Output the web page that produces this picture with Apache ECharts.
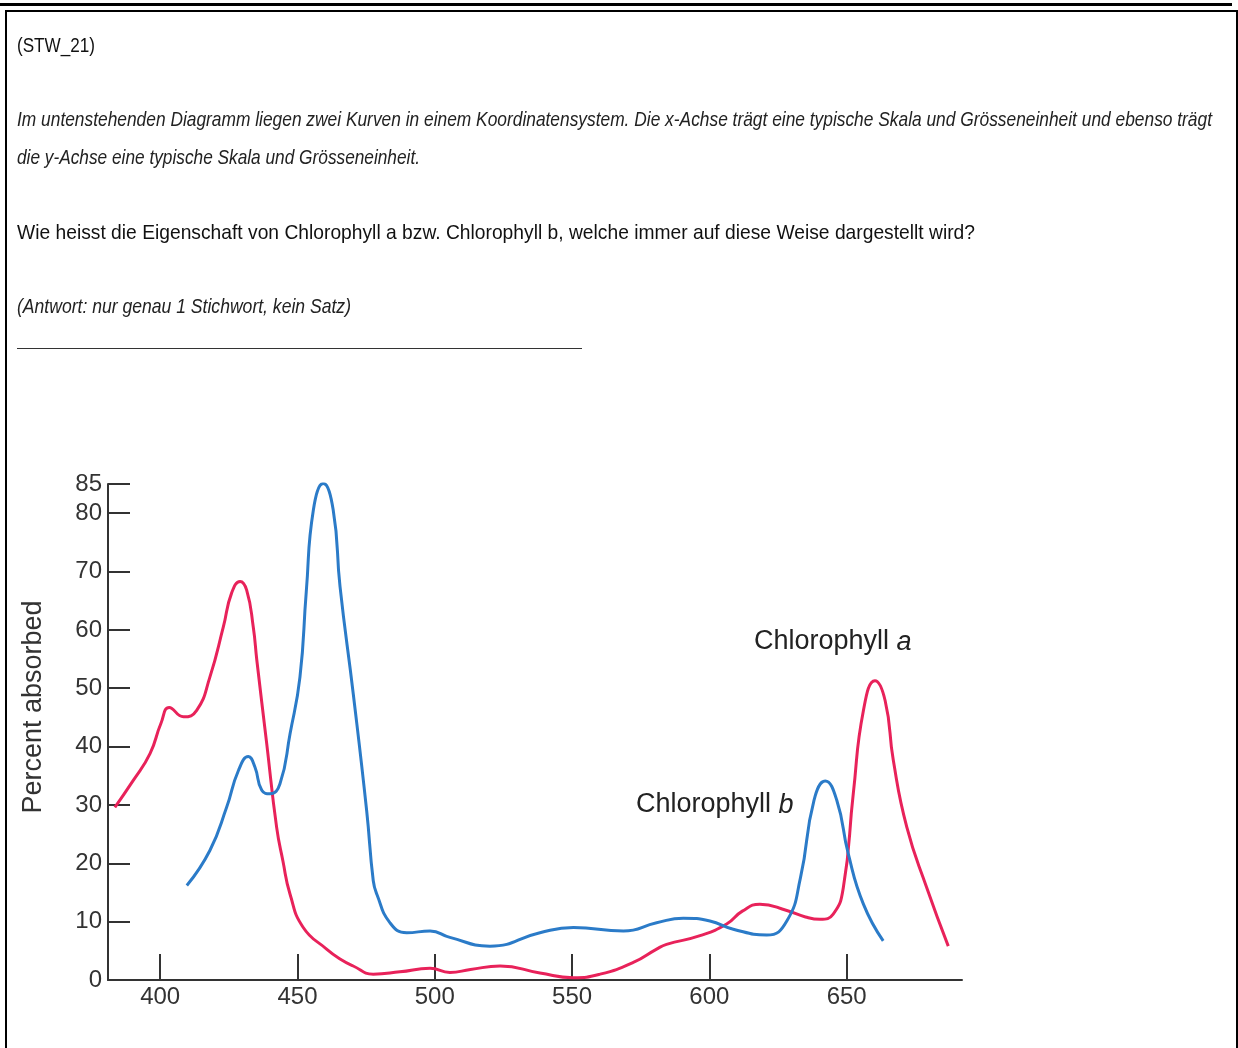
<!DOCTYPE html>
<html>
<head>
<meta charset="utf-8">
<script src="https://cdn.jsdelivr.net/npm/echarts@6/dist/echarts.min.js"></script>
<style>
  html, body { margin:0; padding:0; background:#fff; width:1238px; height:1048px; overflow:hidden; }
  #chart { position:absolute; left:0; top:0; width:1238px; height:1048px; }
  .t { position:absolute; left:17px; font-family:"Liberation Sans",Arial,sans-serif; font-size:21px; color:#111; white-space:nowrap; line-height:1; transform-origin:0 50%; }
  .i { font-style:italic; color:#222; }
  #topline { position:absolute; left:0; top:3px; width:1232px; height:3px; background:#000; }
  #box { position:absolute; left:5px; top:10px; width:1229px; height:1100px; border:2px solid #000; }
  #answer { position:absolute; left:17px; top:348px; width:565px; height:1px; background:#333; }
</style>
</head>
<body>
<div id="chart"></div>
<div id="topline"></div>
<div id="box"></div>
<div class="t" data-w="78" style="top:34px">(STW_21)</div>
<div class="t i" data-w="1195" style="top:108px">Im untenstehenden Diagramm liegen zwei Kurven in einem Koordinatensystem. Die x-Achse trägt eine typische Skala und Grösseneinheit und ebenso trägt</div>
<div class="t i" data-w="403" style="top:146px">die y-Achse eine typische Skala und Grösseneinheit.</div>
<div class="t" data-w="958" style="top:221px">Wie heisst die Eigenschaft von Chlorophyll a bzw. Chlorophyll b, welche immer auf diese Weise dargestellt wird?</div>
<div class="t i" data-w="334" style="top:295px">(Antwort: nur genau 1 Stichwort, kein Satz)</div>
<div id="answer"></div>
<script>
document.querySelectorAll('.t').forEach(el => {
  const w = el.getBoundingClientRect().width;
  const target = parseFloat(el.dataset.w);
  el.style.transform = 'scaleX(' + (target / w) + ')';
});

// Wavelength (nm) / percent absorbed
const chlAWavelength = [383.5,390.2,396.3,400.3,403.3,408.5,413.3,418.1,423,426,429.1,431.5,433.9,435.2,438.8,442.4,444.7,447.3,452.1,460.6,465.5,470.3,477.6,487.3,498.3,505.5,513,523.8,538.3,550.5,560.2,572.3,580.8,584.4,596.6,606.3,612,618.4,628.2,635,640.3,645.1,648.8,652.4,656.1,660.3,664,667,671.9,679.1,687];
const chlAValues = [29.6,34.2,38.8,44.0,46.7,45.1,46.2,51.9,60.5,66.3,68.3,66.8,60.5,54.8,40.5,26.2,20.4,14.7,9.0,5.3,3.6,2.4,1.0,1.4,2.0,1.3,1.8,2.4,1.2,0.4,1.0,3.0,5.3,6.1,7.6,9.6,11.8,13.0,11.9,10.8,10.4,11.3,15.9,31.9,46.2,51.3,47.9,37.6,26.2,15.9,5.8];
const chlBWavelength = [409.7,418.1,424.2,428.5,432.1,434.5,437,440,443.6,447.3,450.9,453.2,455.8,459.4,463,465.5,470.3,475.2,477.6,478.9,483.7,489.8,498.3,505.5,520.1,538.3,550.5,568.7,580.8,590.5,600.2,608.7,620.9,628.2,633.2,638.1,642.2,646.4,650.6,656.1,663.3];
const chlBValues = [16.2,22.2,29.6,35.9,38.3,36.5,32.5,31.9,33.6,42.2,51.9,66.5,80.6,85.1,80.6,67.4,49.1,29.0,17.0,14.7,9.8,8.1,8.4,7.3,5.8,8.1,9.0,8.4,9.8,10.6,10.1,8.7,7.7,10.1,17.6,30.8,34.1,30.8,21.6,13.0,6.7];
const xTicks = [400,450,500,550,600,650];
const yTicks = [0,10,20,30,40,50,60,70,80,85];
const yTickMarks = [10,20,30,40,50,60,70,80,85];

const pair = (xs, ys) => xs.map((x, i) => [x, ys[i]]);
const chart = echarts.init(document.getElementById('chart'));
const axisFont = { fontFamily: 'Liberation Sans, Arial, sans-serif', fontSize: 24, color: '#333' };
const richLabel = {
  n: { font: '27px "Liberation Sans", Arial, sans-serif', fill: '#222' },
  i: { font: 'italic 27px "Liberation Sans", Arial, sans-serif', fill: '#222' }
};
chart.setOption({
  animation: false,
  grid: { left: 108, right: 276, top: 484, bottom: 68 },
  xAxis: {
    type: 'value', min: 381, max: 692,
    axisLine: { lineStyle: { color: '#333', width: 2 } },
    axisTick: { inside: true, length: 26, customValues: xTicks, lineStyle: { color: '#333', width: 2 } },
    axisLabel: Object.assign({ customValues: xTicks, margin: 5 }, axisFont),
    splitLine: { show: false }
  },
  yAxis: {
    type: 'value', min: 0, max: 85,
    axisLine: { show: true, lineStyle: { color: '#333', width: 2 } },
    axisTick: { show: true, inside: true, length: 22, customValues: yTickMarks, lineStyle: { color: '#333', width: 2 } },
    axisLabel: Object.assign({ customValues: yTicks, margin: 6 }, axisFont),
    splitLine: { show: false }
  },
  graphic: [
    { type: 'text', x: 34, y: 707, rotation: Math.PI / 2,
      style: { text: 'Percent absorbed', font: '27px "Liberation Sans", Arial, sans-serif', fill: '#333', align: 'center', verticalAlign: 'middle' } },
    { type: 'text', x: 754, y: 642, style: { text: '{n|Chlorophyll }{i|a}', verticalAlign: 'middle', rich: richLabel } },
    { type: 'text', x: 636, y: 805, style: { text: '{n|Chlorophyll }{i|b}', verticalAlign: 'middle', rich: richLabel } }
  ],
  series: [
    { name: 'Chlorophyll a', type: 'line', data: pair(chlAWavelength, chlAValues), smooth: 0.5, showSymbol: false,
      lineStyle: { color: '#e8225a', width: 3 } },
    { name: 'Chlorophyll b', type: 'line', data: pair(chlBWavelength, chlBValues), smooth: 0.5, showSymbol: false,
      lineStyle: { color: '#2b7bc8', width: 3 } }
  ]
});
</script>
</body>
</html>
